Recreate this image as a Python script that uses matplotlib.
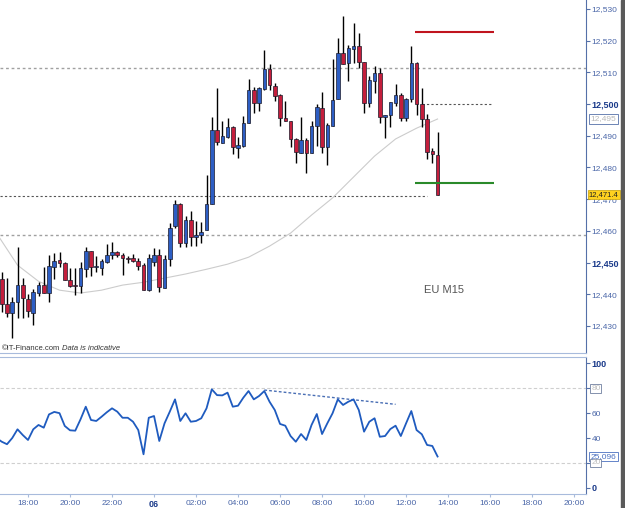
import matplotlib
matplotlib.use('Agg')
import matplotlib.pyplot as plt
import matplotlib.dates as mdates
from matplotlib.patches import Rectangle
import pandas as pd
import numpy as np

plt.rcParams['font.family'] = ['Liberation Sans', 'DejaVu Sans']

# EU M15 candles, the first one opens 16:45 on the 5th
opens = [12.4448, 12.4369, 12.4341, 12.4375, 12.4429, 12.4385, 12.4341, 12.4404, 12.4429, 12.4404,
         12.4486, 12.4508, 12.4498, 12.4445, 12.4429, 12.4426, 12.4479, 12.4536, 12.4486, 12.4482,
         12.4501, 12.4524, 12.4533, 12.4524, 12.4514, 12.4514, 12.4505, 12.4492, 12.4413, 12.4501,
         12.4524, 12.4419, 12.4511, 12.4615, 12.4684, 12.4561, 12.4634, 12.4580, 12.4587, 12.4602,
         12.4684, 12.4918, 12.4877, 12.4896, 12.4927, 12.4861, 12.4867, 12.4940, 12.5044, 12.5003,
         12.5047, 12.5110, 12.5057, 12.5028, 12.4956, 12.4946, 12.4889, 12.4845, 12.4886, 12.4845,
         12.4930, 12.4987, 12.4864, 12.4930, 12.5016, 12.5161, 12.5129, 12.5173, 12.5183, 12.5132,
         12.5003, 12.5072, 12.5098, 12.4959, 12.4965, 12.5003, 12.5028, 12.4956, 12.5016, 12.5129,
         12.5000, 12.4953, 12.4852, 12.4839]
highs = [12.4470, 12.4451, 12.4391, 12.4549, 12.4451, 12.4400, 12.4416, 12.4438, 12.4486, 12.4524,
         12.4530, 12.4533, 12.4501, 12.4482, 12.4482, 12.4501, 12.4549, 12.4536, 12.4520, 12.4511,
         12.4558, 12.4565, 12.4536, 12.4530, 12.4520, 12.4527, 12.4514, 12.4498, 12.4527, 12.4546,
         12.4542, 12.4524, 12.4624, 12.4697, 12.4688, 12.4647, 12.4662, 12.4631, 12.4628, 12.4776,
         12.4959, 12.5050, 12.4946, 12.4956, 12.4930, 12.4896, 12.4962, 12.5079, 12.5054, 12.5054,
         12.5170, 12.5126, 12.5066, 12.5031, 12.5009, 12.4946, 12.4893, 12.4959, 12.4893, 12.4946,
         12.5000, 12.5038, 12.4940, 12.5142, 12.5208, 12.5278, 12.5186, 12.5255, 12.5224, 12.5132,
         12.5090, 12.5120, 12.5113, 12.4965, 12.5006, 12.5063, 12.5035, 12.5019, 12.5183, 12.5132,
         12.5050, 12.4968, 12.4861, 12.4911]
lows = [12.4344, 12.4328, 12.4262, 12.4325, 12.4325, 12.4328, 12.4303, 12.4394, 12.4404, 12.4375,
        12.4448, 12.4486, 12.4445, 12.4422, 12.4397, 12.4404, 12.4454, 12.4457, 12.4470, 12.4460,
        12.4498, 12.4511, 12.4517, 12.4460, 12.4498, 12.4501, 12.4476, 12.4413, 12.4410, 12.4489,
        12.4407, 12.4419, 12.4489, 12.4609, 12.4549, 12.4549, 12.4552, 12.4552, 12.4561, 12.4602,
        12.4684, 12.4870, 12.4877, 12.4893, 12.4842, 12.4830, 12.4864, 12.4940, 12.4971, 12.4978,
        12.5044, 12.5044, 12.5009, 12.4930, 12.4946, 12.4864, 12.4814, 12.4845, 12.4782, 12.4845,
        12.4867, 12.4845, 12.4807, 12.4930, 12.5016, 12.5126, 12.5072, 12.5129, 12.5113, 12.4971,
        12.4990, 12.5035, 12.4940, 12.4893, 12.4927, 12.4994, 12.4946, 12.4946, 12.5006, 12.4965,
        12.4927, 12.4826, 12.4814, 12.4714]
closes = [12.4369, 12.4341, 12.4375, 12.4429, 12.4388, 12.4347, 12.4407, 12.4429, 12.4404, 12.4489,
          12.4505, 12.4498, 12.4445, 12.4426, 12.4426, 12.4482, 12.4536, 12.4486, 12.4489, 12.4505,
          12.4524, 12.4533, 12.4524, 12.4514, 12.4512, 12.4505, 12.4489, 12.4413, 12.4514, 12.4524,
          12.4422, 12.4511, 12.4609, 12.4684, 12.4561, 12.4634, 12.4580, 12.4587, 12.4596, 12.4684,
          12.4918, 12.4880, 12.4899, 12.4927, 12.4864, 12.4870, 12.4940, 12.5044, 12.5003, 12.5050,
          12.5110, 12.5060, 12.5025, 12.4956, 12.4946, 12.4889, 12.4848, 12.4886, 12.4845, 12.4930,
          12.4990, 12.4864, 12.4934, 12.5012, 12.5161, 12.5126, 12.5177, 12.5183, 12.5132, 12.5003,
          12.5076, 12.5098, 12.4959, 12.4965, 12.5006, 12.5028, 12.4956, 12.5016, 12.5129, 12.5000,
          12.4953, 12.4848, 12.4842, 12.4714]

# moving average (hourly samples from 16:30)
ma_vals = [12.4593, 12.4492, 12.4441, 12.4413, 12.4404, 12.4413, 12.4429, 12.4438, 12.4451, 12.4464,
           12.4479, 12.4495, 12.4517, 12.4552, 12.4593, 12.4650, 12.4704, 12.4770, 12.4836, 12.4890,
           12.4924, 12.4953]

# oscillator, one value per bar from 16:30
osc = [40, 37, 35, 40, 47, 42.4, 38.4, 47, 50.5, 48.3, 59, 61, 60, 49.7, 46.2, 45.9, 55, 65.2, 54.5,
       53.7, 57.1, 60.7, 63.9, 61.2, 56.3, 56.3, 53.1, 46.4, 26.9, 56.3, 57.7, 37.6, 51.8, 61.2, 71.1,
       53.7, 59.9, 53.1, 53.7, 55.9, 63.9, 79.2, 74.5, 74.3, 76.5, 65.2, 66, 72.4, 77.8, 71.1, 73.8,
       77.8, 69.2, 62.5, 51.3, 49.9, 41.6, 37, 43.2, 38.4, 50.5, 59.3, 43.2, 51.8, 59.9, 71.1, 66.6,
       69.2, 71.1, 62.5, 45.1, 53.1, 55.9, 41, 41.6, 47.2, 49.9, 41.6, 51.8, 61.7, 46.4, 43, 34.4,
       33.6, 25.1]

price_ticks = [12.43, 12.44, 12.45, 12.46, 12.47, 12.48, 12.49, 12.50, 12.51, 12.52, 12.53]
osc_ticks = [0, 20, 40, 60, 80, 100]
last_price = 12.4714
ma_last = 12.4953
osc_last = 25.096

# horizontal levels
dotted_levels = [12.5114, 12.4587]
support_level = 12.4710
half_level = 12.5000
red_level = 12.5226
green_level = 12.4752

trend_times = ['2012-06-06 05:15', '2012-06-06 11:30']
trend_vals = [78.6, 67.1]

t_candle = mdates.date2num(pd.date_range('2012-06-05 16:45', periods=len(opens), freq='15min'))
t_osc = mdates.date2num(pd.date_range('2012-06-05 16:30', periods=len(osc), freq='15min'))
t_ma = mdates.date2num(pd.date_range('2012-06-05 16:30', periods=len(ma_vals), freq='60min'))
bar = 15 / 1440.0

fig = plt.figure(figsize=(6.25, 5.08), dpi=100)
ax1 = fig.add_axes([0, 1 - 353 / 508, 586 / 625, 353 / 508])
ax2 = fig.add_axes([0, 1 - 494 / 508, 586 / 625, 137 / 508])

x0 = mdates.date2num(pd.Timestamp('2012-06-05 16:40'))
x1 = mdates.date2num(pd.Timestamp('2012-06-06 20:34'))
ax1.set_xlim(x0, x1)
ax2.set_xlim(x0, x1)
ax1.set_ylim(12.42148, 12.53284)
ax2.set_ylim(-5.07, 105.2)

axis_col = '#5570a8'
sep_col = '#a8bbdc'

# levels
for lv in dotted_levels:
    ax1.axhline(lv, color='#a0a0a0', lw=1, dashes=(2, 2), zorder=1)
ax1.hlines(support_level, x0, mdates.date2num(pd.Timestamp('2012-06-06 13:00')),
           color='#555555', lw=0.8, linestyles=(0, (2, 2)), zorder=1)
ax1.hlines(half_level, mdates.date2num(pd.Timestamp('2012-06-06 12:45')),
           mdates.date2num(pd.Timestamp('2012-06-06 16:05')),
           color='#555555', lw=0.8, linestyles=(0, (2, 2)), zorder=1)
lv_start = mdates.date2num(pd.Timestamp('2012-06-06 12:26'))
lv_end = mdates.date2num(pd.Timestamp('2012-06-06 16:11'))
ax1.hlines(red_level, lv_start, lv_end, color='#c0141e', lw=1.5, zorder=4)
ax1.hlines(green_level, lv_start, lv_end, color='#2a8a2a', lw=1.5, zorder=4)

# moving average
ax1.plot(t_ma, ma_vals, color='#cccccc', lw=0.8, zorder=2)

# candles
for t, o, h, l, c in zip(t_candle, opens, highs, lows, closes):
    ax1.vlines(t, l, h, color='black', lw=1, zorder=3)
    col = '#2d5ec4' if c >= o else '#c41e3c'
    hgt = max(abs(c - o), 0.00006)
    ax1.bar(t, hgt, bottom=min(o, c), width=bar * 0.68, color=col,
            edgecolor='#1a1a2a', linewidth=0.5, zorder=3)

ax1.text(mdates.date2num(pd.Timestamp('2012-06-06 12:50')), 12.4412, 'EU M15',
         fontsize=8, color='#555555', va='center')

# oscillator
ax2.axhline(80, color='#cfcfcf', lw=0.8, dashes=(3, 2))
ax2.axhline(20, color='#cfcfcf', lw=0.8, dashes=(3, 2))
ax2.plot(t_osc, osc, color='#1f5bbf', lw=1.3, zorder=3)
ax2.plot(mdates.date2num(pd.to_datetime(trend_times)), trend_vals, color='#4a6fb5',
         lw=1, dashes=(2, 1.5), zorder=2)

# axes styling
for ax in (ax1, ax2):
    ax.spines['left'].set_visible(False)
    ax.spines['right'].set_color(axis_col)
    ax.spines['top'].set_color(sep_col)
    ax.spines['bottom'].set_color(sep_col)
    ax.yaxis.tick_right()
    ax.tick_params(axis='y', direction='out', length=3, width=0.8, color=axis_col,
                   labelsize=6, labelcolor='#4a66a8', pad=1)
ax1.spines['top'].set_visible(False)

ax1.set_yticks(price_ticks)
ax1.set_yticklabels([f'{v:.3f}'.replace('.', ',') for v in price_ticks])
for lab in ax1.get_yticklabels():
    if lab.get_text() in ('12,500', '12,450'):
        lab.set_fontweight('bold')
        lab.set_color('#1a3a8a')
        lab.set_fontsize(6.5)
ax1.set_xticks([])

ax2.set_yticks(osc_ticks)
ax2.set_yticklabels(['0', '', '40', '60', '', '100'])
for lab in ax2.get_yticklabels():
    if lab.get_text() in ('0', '100'):
        lab.set_fontweight('bold')
        lab.set_color('#1a3a8a')
        lab.set_fontsize(6.5)

xt = pd.date_range('2012-06-05 18:00', '2012-06-06 20:00', freq='2h')
ax2.set_xticks(mdates.date2num(xt))
ax2.set_xticklabels(['06' if t.hour == 0 else t.strftime('%H:%M') for t in xt])
ax2.tick_params(axis='x', length=2, color=sep_col, labelsize=6, labelcolor='#4a66a8', pad=2)
for lab in ax2.get_xticklabels():
    if lab.get_text() == '06':
        lab.set_fontweight('bold')
        lab.set_color('#1a3a8a')
        lab.set_fontsize(6.5)

# value boxes on the right axis
ytr1 = ax1.get_yaxis_transform()
ytr2 = ax2.get_yaxis_transform()
ax1.text(1.005, last_price + 0.0002, '12,471.4', transform=ytr1, fontsize=5.5, color='#222222',
         va='center', ha='left', zorder=10, clip_on=False,
         bbox=dict(boxstyle='square,pad=0.12', fc='#ffd21f', ec='#c8a000', lw=0.5))
ax1.text(1.008, ma_last, '12,495', transform=ytr1, fontsize=6, color='#b8b8b8',
         va='center', ha='left', clip_on=False,
         bbox=dict(boxstyle='square,pad=0.15', fc='white', ec=axis_col, lw=0.6))
ax2.text(1.008, osc_last, '25,096', transform=ytr2, fontsize=6, color='#4a70c0',
         va='center', ha='left', clip_on=False,
         bbox=dict(boxstyle='square,pad=0.15', fc='white', ec='#4a70c0', lw=0.6))
for lv in (80, 20):
    ax2.text(1.009, lv, str(lv), transform=ytr2, fontsize=6, color='#c0c0c0',
             va='center', ha='left', clip_on=False,
             bbox=dict(boxstyle='square,pad=0.1', fc='white', ec='#7080a0', lw=0.6))

fig.text(2 / 625, 1 - 349 / 508, '\u00a9IT-Finance.com', fontsize=5.5, color='#333333', va='center')
fig.text(62 / 625, 1 - 349 / 508, 'Data is indicative', fontsize=5.5, color='#333333',
         va='center', style='italic')

fig.patches.append(Rectangle((621 / 625, 0), 4 / 625, 1, transform=fig.transFigure,
                             color='#5a5a5a', zorder=0))

fig.savefig('out.png', dpi=100)
